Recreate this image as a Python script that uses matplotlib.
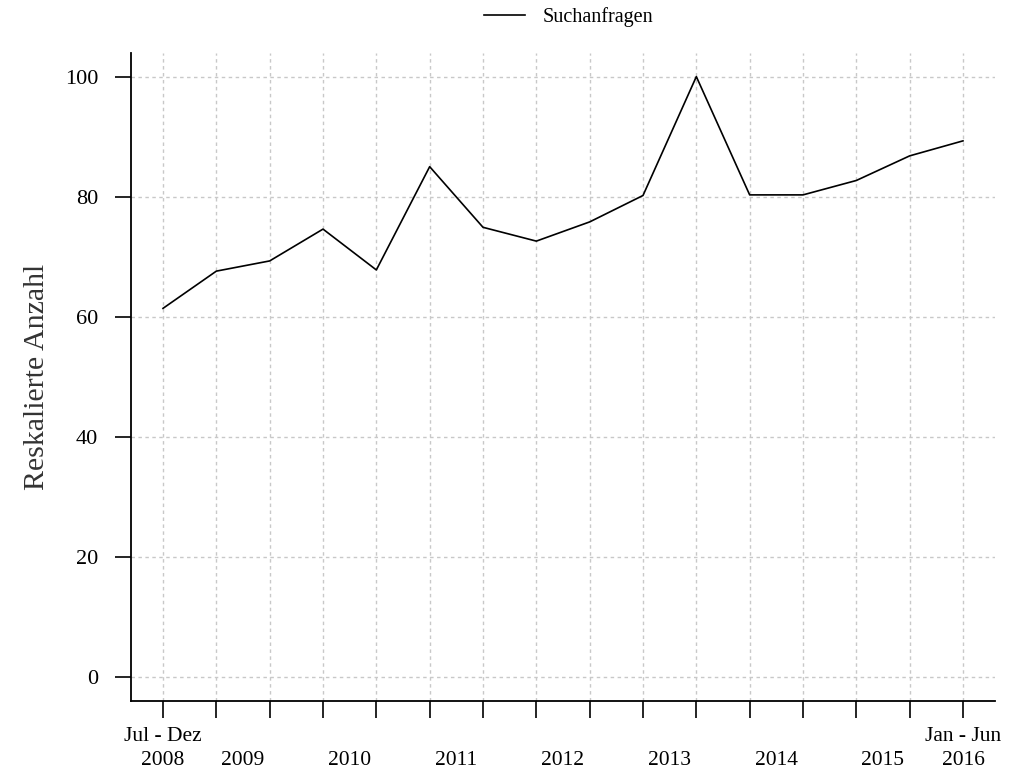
import matplotlib.pyplot as plt

# half-year periods, Jul-Dez 2008 .. Jan-Jun 2016
periods = list(range(16))
suchanfragen = [61.4, 67.6, 69.3, 74.6, 67.8, 85.0, 74.9, 72.6,
                75.8, 80.2, 100.0, 80.3, 80.3, 82.7, 86.8, 89.3]

label_pos = [0, 1.5, 3.5, 5.5, 7.5, 9.5, 11.5, 13.5, 15]
label_txt = ["Jul - Dez\n2008", "\n2009", "\n2010", "\n2011", "\n2012",
             "\n2013", "\n2014", "\n2015", "Jan - Jun\n2016"]
y_ticks = [0, 20, 40, 60, 80, 100]

plt.rcParams['font.family'] = ['Liberation Serif', 'DejaVu Serif']

fig = plt.figure(figsize=(10.12, 7.79), dpi=100)
ax = fig.add_axes([131 / 1012, 1 - 701 / 779, 864 / 1012, 648.4 / 779])

ax.plot(periods, suchanfragen, color='black', linewidth=1.2, label='Suchanfragen')

ax.set_xlim(-0.6, 15.6)
ax.set_ylim(-4, 104)

# tick marks at every half year, labels in between
ax.xaxis.remove_overlapping_locs = False
ax.set_xticks(periods)
ax.set_xticklabels([])
ax.set_xticks(label_pos, minor=True)
ax.set_xticklabels(label_txt, minor=True, fontsize=15.5)
for lab in ax.get_xticklabels(minor=True):
    lab.set_linespacing(1.3)
ax.tick_params(axis='x', which='major', length=12, width=1.2, direction='out')
ax.tick_params(axis='x', which='minor', length=0, pad=19)

ax.set_yticks(y_ticks)
ax.set_yticklabels([str(v) for v in y_ticks], fontsize=16)
ax.tick_params(axis='y', length=11.5, width=1.2, pad=12)

ax.set_ylabel('Reskalierte Anzahl', fontsize=21.5, labelpad=11, color='#333333')

ax.grid(True, which='major', color='#c8c8c8', linestyle=(0, (2.5, 2.5)), linewidth=1)
ax.set_axisbelow(True)

for s in ['top', 'right']:
    ax.spines[s].set_visible(False)
for s in ['left', 'bottom']:
    ax.spines[s].set_linewidth(1.3)

fig.legend(loc='center', bbox_to_anchor=(0.562, 1 - 17 / 779), frameon=False,
           fontsize=14.5, handlelength=2.0, handletextpad=0.9)

plt.savefig('out.png', dpi=100)
